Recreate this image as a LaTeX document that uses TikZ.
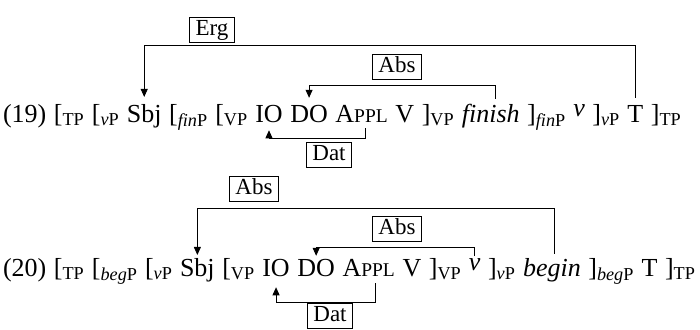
\documentclass[tikz,border=0pt]{standalone}
\usepackage{fontspec}
\setmainfont{Liberation Serif}
\usetikzlibrary{arrows.meta,positioning}
\tikzset{>/.tip={Triangle[length=8pt,width=7pt]}}
\newcommand{\lb}[1]{[\textsubscript{#1}}
\newcommand{\rb}[1]{]\textsubscript{#1}}
\newcommand{\Appl}{A{\fontsize{19.5}{20}\selectfont PPL}}
\newcommand{\hv}{\raisebox{6pt}{\textit{v}}}

\begin{document}
\begin{tikzpicture}[x=1pt,y=-1pt,
  every node/.style={inner sep=0pt,outer sep=0pt,font=\fontsize{26}{30}\selectfont},
  tok/.style={base right=7.6pt of #1},
  case/.style={draw,line width=0.6pt,inner xsep=6pt,inner ysep=2pt,
    text height=16pt,text depth=5pt,font=\fontsize{23}{26}\selectfont},
  link/.style={line width=0.8pt}]
\useasboundingbox (0,0) rectangle (700,329);

% (19)
\node[anchor=base west] (ex1) at (3,122) {(19)};
\node[tok=ex1] (tp1) {\lb{TP}};
\node[tok=tp1] (vp1) {\lb{\textit{v}P}};
\node[tok=vp1] (sbj1) {Sbj};
\node[tok=sbj1] (finp1) {\lb{\textit{fin}P}};
\node[tok=finp1] (vpo1) {\lb{VP}};
\node[tok=vpo1] (io1) {IO};
\node[tok=io1] (do1) {DO};
\node[tok=do1] (appl1) {\Appl};
\node[tok=appl1] (v1) {V};
\node[tok=v1] (vpc1) {\rb{VP}};
\node[tok=vpc1] (fin1) {\textit{finish}};
\node[tok=fin1] (finpc1) {\rb{\textit{fin}P}};
\node[tok=finpc1] (lv1) {\hv};
\node[tok=lv1] (vpcc1) {\rb{\textit{v}P}};
\node[tok=vpcc1] (t1) {T};
\node[tok=t1] (tpc1) {\rb{TP}};

\coordinate (erg1) at (0,45);
\coordinate (abs1) at (0,85);
\coordinate (dat1) at (0,138);
\coordinate (ap1) at ([xshift=-22pt,yshift=-6pt]appl1.south east);
\coordinate (fn1) at ([xshift=-24pt,yshift=5pt]fin1.north east);

\node[case,anchor=south] (erglab) at (212,42) {Erg};
\node[case,anchor=south] (abslab1) at (397,79) {Abs};
\node[case,anchor=north] (datlab1) at (329,142) {Dat};

\draw[link,->] ([yshift=7pt]t1.north) -- (t1 |- erg1) -| ([yshift=7pt]sbj1.north);
\draw[link,->] (fn1) -- (fn1 |- abs1) -| ([yshift=7pt]do1.north);
\draw[link,->] (ap1) -- (ap1 |- dat1) -| ([yshift=-8pt]io1.south);

% (20)
\node[anchor=base west] (ex2) at (3,276) {(20)};
\node[tok=ex2] (tp2) {\lb{TP}};
\node[tok=tp2] (begp2) {\lb{\textit{beg}P}};
\node[tok=begp2] (vp2) {\lb{\textit{v}P}};
\node[tok=vp2] (sbj2) {Sbj};
\node[tok=sbj2] (vpo2) {\lb{VP}};
\node[tok=vpo2] (io2) {IO};
\node[tok=io2] (do2) {DO};
\node[tok=do2] (appl2) {\Appl};
\node[tok=appl2] (v2) {V};
\node[tok=v2] (vpc2) {\rb{VP}};
\node[tok=vpc2] (lv2) {\hv};
\node[tok=lv2] (vpcc2) {\rb{\textit{v}P}};
\node[tok=vpcc2] (beg2) {\textit{begin}};
\node[tok=beg2] (begpc2) {\rb{\textit{beg}P}};
\node[tok=begpc2] (t2) {T};
\node[tok=t2] (tpc2) {\rb{TP}};

\coordinate (absa2) at (0,208);
\coordinate (absb2) at (0,247);
\coordinate (dat2) at (0,302);
\coordinate (ap2) at ([xshift=-20pt,yshift=-7pt]appl2.south east);
\coordinate (bg2) at ([xshift=-26pt,yshift=4pt]beg2.north east);

\node[case,anchor=south] (abslab2) at (254,201) {Abs};
\node[case,anchor=south] (abslab3) at (397,241) {Abs};
\node[case,anchor=north] (datlab2) at (330,303) {Dat};

\draw[link,->] (bg2) -- (bg2 |- absa2) -| ([yshift=3pt]sbj2.north);
\draw[link,->] ([yshift=2pt]lv2.north) -- (lv2 |- absb2) -| ([yshift=3pt]do2.north);
\draw[link,->] (ap2) -- (ap2 |- dat2) -| ([yshift=-11pt]io2.south);
\end{tikzpicture}
\end{document}
